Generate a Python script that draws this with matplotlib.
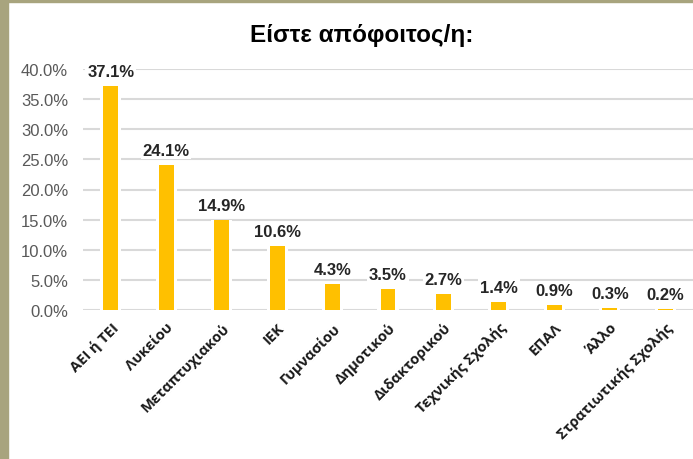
import matplotlib
matplotlib.use("Agg")
import matplotlib.pyplot as plt
from matplotlib.patches import Rectangle
from matplotlib.ticker import PercentFormatter

categories = ["ΑΕΙ ή ΤΕΙ", "Λυκείου", "Μεταπτυχιακού", "ΙΕΚ", "Γυμνασίου",
              "Δημοτικού", "Διδακτορικού", "Τεχνικής Σχολής", "ΕΠΑΛ", "Άλλο",
              "Στρατιωτικής Σχολής"]
values = [37.1, 24.1, 14.9, 10.6, 4.3, 3.5, 2.7, 1.4, 0.9, 0.3, 0.2]
value_labels = ["37.1%", "24.1%", "14.9%", "10.6%", "4.3%", "3.5%", "2.7%",
                "1.4%", "0.9%", "0.3%", "0.2%"]
yticks = [0, 5, 10, 15, 20, 25, 30, 35, 40]

W, H = 693, 460
fig = plt.figure(figsize=(W / 100, H / 100), dpi=100)
fig.patch.set_facecolor("white")

# olive frame on the left and top
fig.patches.append(Rectangle((0, 0), 8 / W, 1, transform=fig.transFigure,
                             color="#A8A47E", zorder=10))
fig.patches.append(Rectangle((0, 1 - 3 / H), 1, 3 / H, transform=fig.transFigure,
                             color="#A8A47E", zorder=10))

left, right = 83, 693
top, bottom = 70, 311
ax = fig.add_axes([left / W, 1 - bottom / H, (right - left) / W, (bottom - top) / H])

x = list(range(len(categories)))
# white halo behind the bars breaks the gridlines like in the original
ax.bar(x, values, width=0.38, color="white", zorder=2)
ax.bar(x, values, width=0.27, color="#FFC000", zorder=3)

for xi, v, lab in zip(x, values, value_labels):
    ax.annotate(lab, (xi, v), xytext=(0, 7.2), textcoords="offset points",
                ha="center", va="baseline", fontsize=12, fontweight="bold",
                family="Liberation Sans", color="#262626", zorder=4,
                bbox=dict(boxstyle="square,pad=0.1", fc="white", ec="none"))

ax.set_xlim(-0.5, len(categories) - 0.5)
ax.set_ylim(0, 40)
ax.set_yticks(yticks)
ax.yaxis.set_major_formatter(PercentFormatter(decimals=1))
ax.grid(axis="y", color="#D9D9D9", linewidth=1.5, zorder=0)
ax.set_axisbelow(True)
for s in ax.spines.values():
    s.set_visible(False)
ax.tick_params(axis="both", length=0)
ax.tick_params(axis="y", pad=10.8)
for t in ax.get_yticklabels():
    t.set_fontsize(12)
    t.set_family("Liberation Sans")
    t.set_color("#595959")

ax.set_xticks(x)
ax.set_xticklabels(categories, rotation=45, ha="right", rotation_mode="anchor",
                   fontsize=10.5, fontweight="bold", family="Open Sans",
                   color="#1A1A1A")
ax.tick_params(axis="x", pad=7)

fig.text(362 / W, 1 - 42 / H, "Είστε απόφοιτος/η:", ha="center", va="baseline",
         fontsize=17.5, fontweight="bold", family="Liberation Sans", color="black")

fig.savefig("out.png", dpi=100)
